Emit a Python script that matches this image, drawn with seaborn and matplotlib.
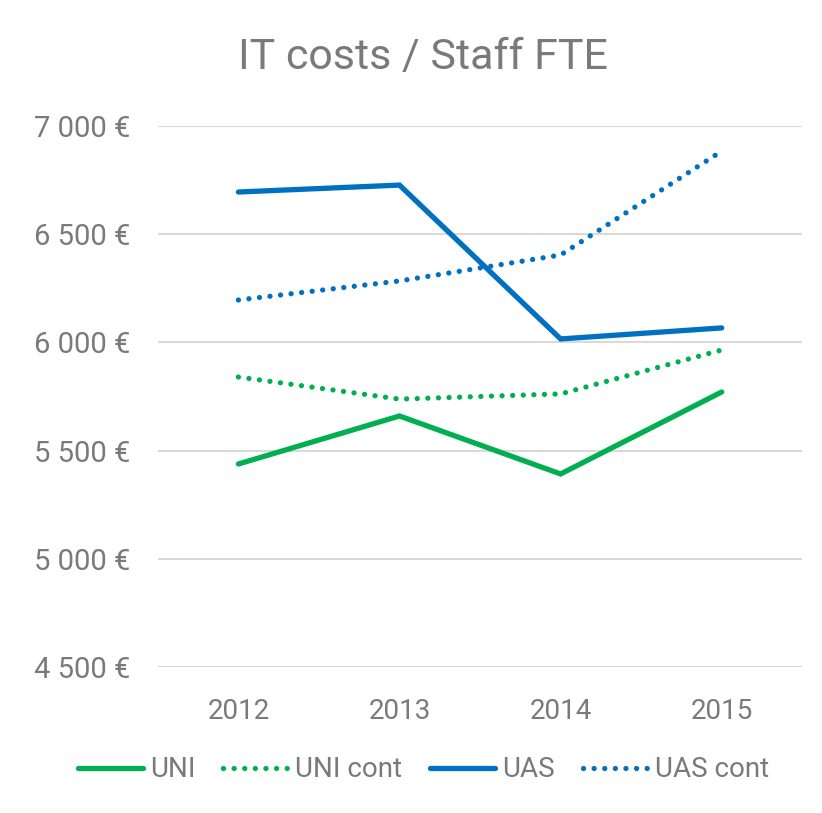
import pandas as pd
import matplotlib.pyplot as plt
import seaborn as sns
from matplotlib.ticker import FuncFormatter
from matplotlib import font_manager

# data
years = ['2012', '2013', '2014', '2015']
uni = [5438, 5660, 5392, 5771]
uni_cont = [5840, 5738, 5762, 5965]
uas = [6695, 6727, 6016, 6067]
uas_cont = [6196, 6284, 6404, 6884]

series_names = ['UNI', 'UNI cont', 'UAS', 'UAS cont']
series_values = [uni, uni_cont, uas, uas_cont]

rows = []
for name, vals in zip(series_names, series_values):
    for y, v in zip(years, vals):
        rows.append({'Year': y, 'Series': name, 'Cost': v})
df = pd.DataFrame(rows)

sns.set_theme(style="white")

# pick a narrow font if available
names = {f.name for f in font_manager.fontManager.ttflist}
family = ['Liberation Sans Narrow'] if 'Liberation Sans Narrow' in names else ['Roboto']
plt.rcParams['font.family'] = family + ['DejaVu Sans']

text_color = '#7a7a7a'
green = '#00B050'
blue = '#0070C0'

fig = plt.figure(figsize=(8.22, 8.13), dpi=100)
ax = fig.add_axes([0.192, 0.1796, 0.784, 0.6654])

palette = {'UNI': green, 'UNI cont': green, 'UAS': blue, 'UAS cont': blue}
dashes = {'UNI': '', 'UNI cont': (0.01, 2.0), 'UAS': '', 'UAS cont': (0.01, 2.0)}

sns.lineplot(data=df, x='Year', y='Cost', hue='Series', style='Series',
             palette=palette, dashes=dashes, linewidth=3.8, sort=False,
             ax=ax, legend=True)
for line in ax.lines:
    line.set_solid_capstyle('round')
    line.set_dash_capstyle('round')
    line.set_solid_joinstyle('miter')

ax.set_ylim(4500, 7000)
ax.set_xlim(-0.5, 3.5)
ax.set_yticks([4500, 5000, 5500, 6000, 6500, 7000])
ax.yaxis.set_major_formatter(FuncFormatter(lambda v, p: f"{int(v):,} €".replace(',', ' ')))
ax.grid(axis='y', color='#d9d9d9', linewidth=1.5)
ax.set_axisbelow(True)
for s in ax.spines.values():
    s.set_visible(False)
ax.tick_params(axis='y', length=0, pad=20, labelsize=21, labelcolor=text_color)
ax.tick_params(axis='x', length=0, pad=22, labelsize=20, labelcolor=text_color)
ax.set_xlabel('')
ax.set_ylabel('')

fig.suptitle('IT costs / Staff FTE', x=0.515, y=0.955, fontsize=31, color=text_color)

handles, labels = ax.get_legend_handles_labels()
for h in handles:
    h.set_linewidth(3.8)
    h.set_dash_capstyle('round')
    h.set_solid_capstyle('round')
ax.legend(handles, labels, loc='center', bbox_to_anchor=(0.515, 0.053),
          bbox_transform=fig.transFigure, ncol=4, frameon=False,
          fontsize=20, handlelength=2.35, handletextpad=0.25, columnspacing=1.0,
          labelcolor=text_color)

fig.savefig('out.png', dpi=100)
